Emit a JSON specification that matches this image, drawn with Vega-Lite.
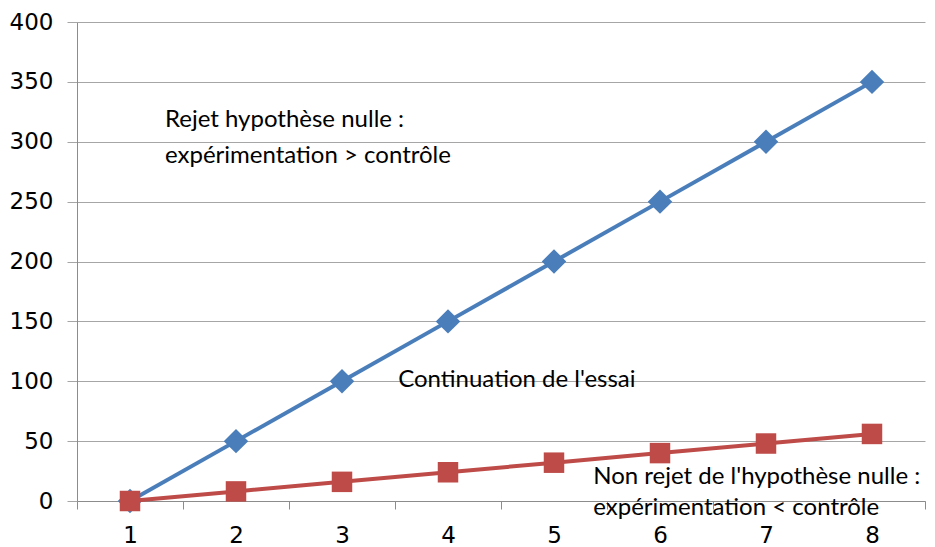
{
  "$schema": "https://vega.github.io/schema/vega-lite/v6.json",
  "autosize": "none",
  "width": 848,
  "height": 479,
  "padding": {"left": 77, "top": 22, "right": 10, "bottom": 46},
  "background": "white",
  "config": {"view": {"stroke": null}},
  "datasets": {
    "series": [
      {"etape": 1, "serie": "exp", "valeur": 0},
      {"etape": 2, "serie": "exp", "valeur": 50},
      {"etape": 3, "serie": "exp", "valeur": 100},
      {"etape": 4, "serie": "exp", "valeur": 150},
      {"etape": 5, "serie": "exp", "valeur": 200},
      {"etape": 6, "serie": "exp", "valeur": 250},
      {"etape": 7, "serie": "exp", "valeur": 300},
      {"etape": 8, "serie": "exp", "valeur": 350},
      {"etape": 1, "serie": "ctrl", "valeur": 0},
      {"etape": 2, "serie": "ctrl", "valeur": 8},
      {"etape": 3, "serie": "ctrl", "valeur": 16},
      {"etape": 4, "serie": "ctrl", "valeur": 24},
      {"etape": 5, "serie": "ctrl", "valeur": 32},
      {"etape": 6, "serie": "ctrl", "valeur": 40},
      {"etape": 7, "serie": "ctrl", "valeur": 48},
      {"etape": 8, "serie": "ctrl", "valeur": 56}
    ],
    "notes": [
      {"x": 1.33, "y": 318, "texte": "Rejet hypothèse nulle :"},
      {"x": 1.33, "y": 288, "texte": "expérimentation > contrôle"},
      {"x": 3.53, "y": 101, "texte": "Continuation de l'essai"},
      {"x": 5.37, "y": 20, "texte": "Non rejet de l'hypothèse nulle :"},
      {"x": 5.37, "y": -6, "texte": "expérimentation < contrôle"}
    ]
  },
  "layer": [
    {
      "data": {"name": "series"},
      "transform": [{"filter": "datum.serie == 'exp'"}],
      "mark": {"type": "line", "color": "#4A7EBB", "strokeWidth": 4},
      "encoding": {
        "x": {
          "field": "etape", "type": "quantitative",
          "scale": {"domain": [0.5, 8.5], "nice": false, "zero": false},
          "axis": {
            "title": null,
            "values": [0.5, 1, 1.5, 2, 2.5, 3, 3.5, 4, 4.5, 5, 5.5, 6, 6.5, 7, 7.5, 8, 8.5],
            "labelExpr": "datum.value % 1 == 0 ? format(datum.value, 'd') : ''",
            "tickOpacity": {"condition": {"test": "datum.value % 1 != 0", "value": 1}, "value": 0},
            "grid": false,
            "domainColor": "#8c8c8c",
            "tickColor": "#8c8c8c",
            "tickSize": 8,
            "labelPadding": 15,
            "labelFont": "DejaVu Sans",
            "labelFontSize": 23,
            "labelColor": "#000000",
            "labelFlush": false,
            "labelOverlap": false
          }
        },
        "y": {
          "field": "valeur", "type": "quantitative",
          "scale": {"domain": [0, 400], "nice": false},
          "axis": {
            "title": null,
            "values": [0, 50, 100, 150, 200, 250, 300, 350, 400],
            "grid": true,
            "gridColor": "#a6a6a6",
            "domainColor": "#8c8c8c",
            "tickColor": "#a6a6a6",
            "tickSize": 10,
            "labelPadding": 14,
            "labelFont": "DejaVu Sans",
            "labelFontSize": 23,
            "labelColor": "#000000"
          }
        }
      }
    },
    {
      "data": {"name": "series"},
      "transform": [{"filter": "datum.serie == 'exp'"}],
      "mark": {"type": "point", "shape": "diamond", "filled": true, "color": "#4A7EBB", "size": 600, "opacity": 1},
      "encoding": {
        "x": {"field": "etape", "type": "quantitative"},
        "y": {"field": "valeur", "type": "quantitative"}
      }
    },
    {
      "data": {"name": "series"},
      "transform": [{"filter": "datum.serie == 'ctrl'"}],
      "mark": {"type": "line", "color": "#BE4B48", "strokeWidth": 4},
      "encoding": {
        "x": {"field": "etape", "type": "quantitative"},
        "y": {"field": "valeur", "type": "quantitative"}
      }
    },
    {
      "data": {"name": "series"},
      "transform": [{"filter": "datum.serie == 'ctrl'"}],
      "mark": {"type": "point", "shape": "square", "filled": true, "color": "#BE4B48", "size": 420, "opacity": 1},
      "encoding": {
        "x": {"field": "etape", "type": "quantitative"},
        "y": {"field": "valeur", "type": "quantitative"}
      }
    },
    {
      "data": {"name": "notes"},
      "mark": {"type": "text", "align": "left", "baseline": "middle", "font": "Lato", "fontSize": 24, "color": "#000000", "clip": false},
      "encoding": {
        "x": {"field": "x", "type": "quantitative"},
        "y": {"field": "y", "type": "quantitative"},
        "text": {"field": "texte"}
      }
    }
  ]
}
